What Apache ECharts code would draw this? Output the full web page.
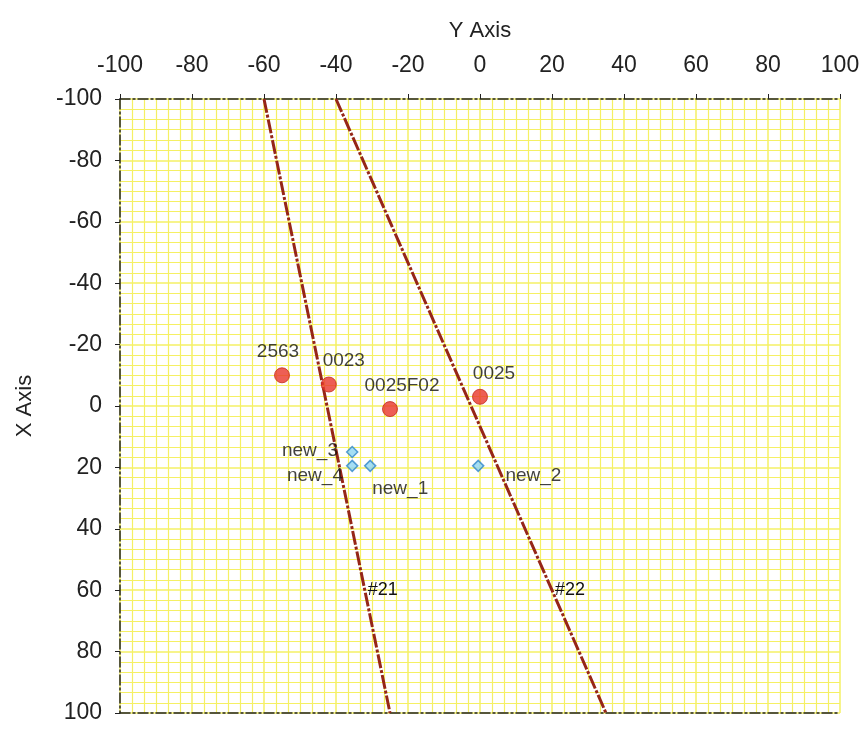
<!DOCTYPE html>
<html><head><meta charset="utf-8">
<script src="https://cdn.jsdelivr.net/npm/echarts@6/dist/echarts.min.js"></script>
<style>html,body{margin:0;padding:0;background:#fff}#c{width:863px;height:729px}</style>
</head><body><div id="c"></div>
<script>
// Data (horizontal = "Y Axis", vertical = "X Axis", inverted)
const wellNames = ['2563', '0023', '0025F02', '0025'];
const wellY = [-55, -42, -25, 0];
const wellX = [-10, -7, 1, -3];

const newNames = ['new_3', 'new_4', 'new_1', 'new_2'];
const newY = [-35.5, -35.5, -30.5, -0.5];
const newX = [15, 19.5, 19.5, 19.5];

const line21Y = [-60, -32, -25];
const line21X = [-100, 60, 100];
const line22Y = [-40, 20, 35];
const line22X = [-100, 60, 100];
const lineNames = ['#21', '#22'];

const tickValues = [-100, -80, -60, -40, -20, 0, 20, 40, 60, 80, 100];

const FONT = 'Liberation Sans, Arial, sans-serif';
const yellow = '#f5f064';

function lineData(ys, xs, name) {
  return ys.map((v, i) => ({
    value: [v, xs[i]],
    label: { show: i === 1, formatter: name, position: 'right', distance: 3,
             color: '#111', fontSize: 18, fontFamily: FONT, textBorderWidth: 0 }
  }));
}

const wellOffsets = [[-4, 0], [15, 0], [12, 0], [14, 0]];
const newLabels = [['left', [-2, -1]], ['left', [3, 10]], ['bottom', [30, 1]], ['right', [15, 10]]];

const chart = echarts.init(document.getElementById('c'), null, { renderer: 'canvas' });
const axisLineStyle = { color: '#222', width: 1.5, type: [10, 3, 2, 3] };
chart.setOption({
  animation: false,
  grid: { left: 120, right: 23, top: 99, bottom: 16, containLabel: false },
  xAxis: [{
    type: 'value', position: 'top', min: tickValues[0], max: tickValues[tickValues.length - 1], interval: 20,
    name: 'Y Axis', nameLocation: 'middle', nameGap: 57,
    nameTextStyle: { fontSize: 22, color: '#222', fontFamily: FONT },
    axisLine: { show: true, onZero: false, lineStyle: axisLineStyle },
    axisTick: { show: true, inside: false, length: 5, lineStyle: { color: '#222' } },
    axisLabel: { fontSize: 23, color: '#222', margin: 22, fontFamily: FONT },
    splitLine: { show: true, lineStyle: { color: yellow, width: 1.5 } },
    minorTick: { show: true, splitNumber: 6, length: 0 },
    minorSplitLine: { show: true, lineStyle: { color: yellow, width: 1.2 } }
  }, {
    type: 'value', position: 'bottom', min: -100, max: 100, interval: 20,
    axisLine: { show: true, onZero: false, lineStyle: axisLineStyle },
    axisTick: { show: false }, axisLabel: { show: false }, splitLine: { show: false }
  }],
  yAxis: [{
    type: 'value', inverse: true, min: -100, max: 100, interval: 20,
    name: 'X Axis', nameLocation: 'middle', nameGap: 84, nameRotate: 90,
    nameTextStyle: { fontSize: 22, color: '#222', fontFamily: FONT },
    axisLine: { show: true, onZero: false, lineStyle: axisLineStyle },
    axisTick: { show: true, length: 5, lineStyle: { color: '#222' } },
    axisLabel: { fontSize: 23, color: '#222', margin: 18, fontFamily: FONT },
    splitLine: { show: true, lineStyle: { color: yellow, width: 1.5 } },
    minorTick: { show: true, splitNumber: 6, length: 0 },
    minorSplitLine: { show: true, lineStyle: { color: yellow, width: 1.2 } }
  }],
  series: [
    { type: 'line', name: lineNames[0], data: lineData(line21Y, line21X, lineNames[0]),
      symbol: 'circle', symbolSize: 0.1, showSymbol: true, showAllSymbol: true,
      lineStyle: { color: '#962618', width: 3, type: [14, 2, 3, 2] }, z: 3 },
    { type: 'line', name: lineNames[1], data: lineData(line22Y, line22X, lineNames[1]),
      symbol: 'circle', symbolSize: 0.1, showSymbol: true, showAllSymbol: true,
      lineStyle: { color: '#962618', width: 3, type: [14, 2, 3, 2] }, z: 3 },
    { type: 'scatter', symbol: 'circle', symbolSize: 15, z: 5,
      itemStyle: { color: '#e8362a', borderColor: '#c02a20', borderWidth: 1 },
      data: wellY.map((v, i) => ({ value: [v, wellX[i]], name: wellNames[i],
        label: { offset: wellOffsets[i] } })),
      label: { show: true, formatter: p => p.name, position: 'top', distance: 6,
               color: '#111', fontSize: 19, fontFamily: FONT } },
    { type: 'scatter', symbol: 'diamond', symbolSize: 11, z: 5,
      itemStyle: { color: '#8fd6f2', borderColor: '#2f86c8', borderWidth: 1.5 },
      data: newY.map((v, i) => ({ value: [v, newX[i]], name: newNames[i],
          label: { position: newLabels[i][0], offset: newLabels[i][1] } })),
      label: { show: true, formatter: p => p.name, distance: 6,
               color: '#111', fontSize: 19, fontFamily: FONT } }
  ]
});
</script></body></html>
